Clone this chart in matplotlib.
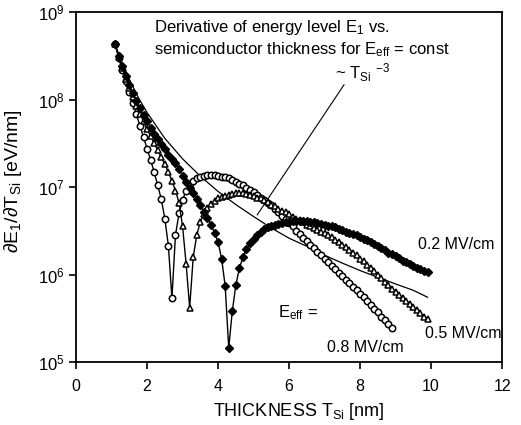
import numpy as np
import matplotlib
matplotlib.use("Agg")
import matplotlib.pyplot as plt
from matplotlib.ticker import LogLocator, NullLocator, FixedLocator

plt.rcParams['font.family'] = ['Liberation Sans', 'DejaVu Sans']
plt.rcParams['mathtext.fontset'] = 'custom'
plt.rcParams['mathtext.rm'] = 'Liberation Sans'
plt.rcParams['mathtext.it'] = 'Liberation Sans:italic'
plt.rcParams['mathtext.sf'] = 'Liberation Sans'

# silicon thickness grid of the simulated points [nm]
thickness = [1.1, 1.2, 1.3, 1.4, 1.5, 1.6, 1.7, 1.8, 1.9, 2.0,
             2.1, 2.2, 2.3, 2.4, 2.5, 2.6, 2.7, 2.8, 2.9, 3.0,
             3.1, 3.2, 3.3, 3.4, 3.5, 3.6, 3.7, 3.8, 3.9, 4.0,
             4.1, 4.2, 4.3, 4.4, 4.5, 4.6, 4.7, 4.8, 4.9, 5.0,
             5.1, 5.2, 5.3, 5.4, 5.5, 5.6, 5.7, 5.8, 5.9, 6.0,
             6.1, 6.2, 6.3, 6.4, 6.5, 6.6, 6.7, 6.8, 6.9, 7.0,
             7.1, 7.2, 7.3, 7.4, 7.5, 7.6, 7.7, 7.8, 7.9, 8.0,
             8.1, 8.2, 8.3, 8.4, 8.5, 8.6, 8.7, 8.8, 8.9, 9.0,
             9.1, 9.2, 9.3, 9.4, 9.5, 9.6, 9.7, 9.8, 9.9]

# log10 of dE1/dTsi [eV/nm]
log_08 = [8.63, 8.48, 8.34, 8.21, 8.09, 7.96, 7.83, 7.70, 7.57, 7.44,
          7.31, 7.17, 7.02, 6.86, 6.64, 6.33, 5.73, 6.45, 6.70, 6.85,
          6.96, 7.03, 7.07, 7.10, 7.12, 7.13, 7.14, 7.14, 7.14, 7.13,
          7.12, 7.11, 7.10, 7.08, 7.06, 7.04, 7.02, 6.99, 6.97, 6.94,
          6.91, 6.88, 6.85, 6.82, 6.79, 6.75, 6.71, 6.67, 6.63, 6.59,
          6.55, 6.50, 6.46, 6.42, 6.38, 6.34, 6.30, 6.26, 6.22, 6.18,
          6.14, 6.10, 6.06, 6.02, 5.98, 5.94, 5.90, 5.86, 5.82, 5.78,
          5.74, 5.70, 5.65, 5.61, 5.57, 5.52, 5.48, 5.43, 5.39]

log_05 = [8.63, 8.49, 8.36, 8.24, 8.13, 8.03, 7.93, 7.84, 7.75, 7.66,
          7.58, 7.50, 7.42, 7.34, 7.26, 7.17, 7.07, 6.96, 6.82, 6.55,
          6.12, 5.62, 6.20, 6.45, 6.60, 6.69, 6.76, 6.81, 6.84, 6.87,
          6.89, 6.90, 6.91, 6.92, 6.93, 6.93, 6.93, 6.92, 6.91, 6.90,
          6.88, 6.87, 6.85, 6.83, 6.80, 6.78, 6.75, 6.73, 6.71, 6.69,
          6.66, 6.64, 6.62, 6.60, 6.57, 6.55, 6.53, 6.51, 6.49, 6.47,
          6.45, 6.43, 6.40, 6.37, 6.34, 6.31, 6.28, 6.25, 6.22, 6.18,
          6.15, 6.11, 6.08, 6.04, 6.00, 5.96, 5.92, 5.88, 5.84, 5.80,
          5.77, 5.73, 5.70, 5.66, 5.63, 5.59, 5.56, 5.52, 5.49]

log_02 = [8.63, 8.50, 8.38, 8.27, 8.17, 8.07, 7.98, 7.90, 7.82, 7.75,
          7.68, 7.61, 7.55, 7.49, 7.43, 7.37, 7.32, 7.27, 7.21, 7.13,
          7.06, 6.99, 6.93, 6.86, 6.79, 6.72, 6.65, 6.57, 6.48, 6.37,
          6.18, 5.87, 5.16, 5.58, 5.88, 6.07, 6.20, 6.29, 6.36, 6.41,
          6.45, 6.49, 6.52, 6.54, 6.56, 6.57, 6.58, 6.59, 6.60, 6.60,
          6.61, 6.61, 6.61, 6.61, 6.61, 6.60, 6.60, 6.59, 6.58, 6.57,
          6.56, 6.55, 6.54, 6.52, 6.51, 6.49, 6.48, 6.46, 6.45, 6.43,
          6.41, 6.39, 6.37, 6.35, 6.33, 6.30, 6.28, 6.25, 6.23, 6.21,
          6.19, 6.16, 6.14, 6.12, 6.10, 6.08, 6.06, 6.04, 6.03]

# ~ Tsi^-3 reference line
ref_x = [1.1, 1.25, 1.5, 1.75, 2.0, 2.5, 3.0, 3.5, 4.0, 4.5, 5.0,
         5.5, 6.0, 6.5, 7.0, 7.5, 8.0, 8.5, 9.0, 9.5, 9.9]
ref_y = [4.3e8, 2.9e8, 1.7e8, 1.06e8, 7.1e7, 3.6e7, 2.1e7, 1.33e7, 8.9e6,
         6.3e6, 4.6e6, 3.4e6, 2.6e6, 2.1e6, 1.66e6, 1.35e6, 1.11e6, 9.3e5,
         7.8e5, 6.6e5, 5.5e5]

fig = plt.figure(figsize=(5.21, 4.25), dpi=100)
ax = fig.add_axes([0.146, 0.1482, 0.8177, 0.8235])

ax.plot(ref_x, ref_y, color='black', lw=0.9)

n08 = len(log_08)
ax.plot(thickness[:n08], 10 ** np.array(log_08), color='black', lw=1.0,
        marker='o', ms=4.6, mfc='white', mec='black', mew=1.1)
ax.plot(thickness, 10 ** np.array(log_05), color='black', lw=1.0,
        marker='^', ms=4.8, mfc='white', mec='black', mew=1.1)
ax.plot(thickness, 10 ** np.array(log_02), color='black', lw=1.0,
        marker='D', ms=3.9, mfc='black', mec='black')

ax.set_yscale('log')
ax.set_xlim(0, 12)
ax.set_ylim(1e5, 1e9)
ax.xaxis.set_major_locator(FixedLocator([0, 2, 4, 6, 8, 10, 12]))
ax.yaxis.set_major_locator(LogLocator(base=10, numticks=10))
ax.yaxis.set_minor_locator(NullLocator())
ax.tick_params(axis='both', direction='out', length=5, width=1.2)
ax.tick_params(axis='x', pad=7, labelsize=11.5)
ax.tick_params(axis='y', pad=3, labelsize=12)
for s in ax.spines.values():
    s.set_linewidth(1.3)

ax.set_xlabel(r'THICKNESS T$_{\rm Si}$ [nm]', fontsize=13)
ax.set_ylabel(r'$\partial$E$_1$/$\partial$T$_{\rm Si}$ [eV/nm]', fontsize=14)
ax.xaxis.set_label_coords(0.522, -0.112)
ax.yaxis.set_label_coords(-0.122, 0.517)

ax.text(2.2, 10 ** 8.82, r'Derivative of energy level E$_1$ vs.', fontsize=12,
        ha='left', va='center')
ax.text(2.2, 10 ** 8.57, r'semiconductor thickness for E$_{\rm eff}$ = const',
        fontsize=12, ha='left', va='center')

ax.text(7.3, 10 ** 8.31, r'~ T$_{\rm Si}$ $^{-3}$', fontsize=12,
        ha='left', va='center')
ax.annotate('', xy=(5.1, 10 ** 6.68), xytext=(7.55, 10 ** 8.17),
            arrowprops=dict(arrowstyle='-', lw=0.8, color='black',
                            shrinkA=0, shrinkB=0))

ax.text(9.63, 10 ** 6.34, '0.2 MV/cm', fontsize=11.5, ha='left', va='center')
ax.text(9.83, 10 ** 5.33, '0.5 MV/cm', fontsize=11.5, ha='left', va='center')
ax.text(7.07, 10 ** 5.17, '0.8 MV/cm', fontsize=11.5, ha='left', va='center')
ax.text(5.69, 10 ** 5.56, r'E$_{\rm eff}$ =', fontsize=12, ha='left', va='center')

fig.savefig('out.png', dpi=100)
